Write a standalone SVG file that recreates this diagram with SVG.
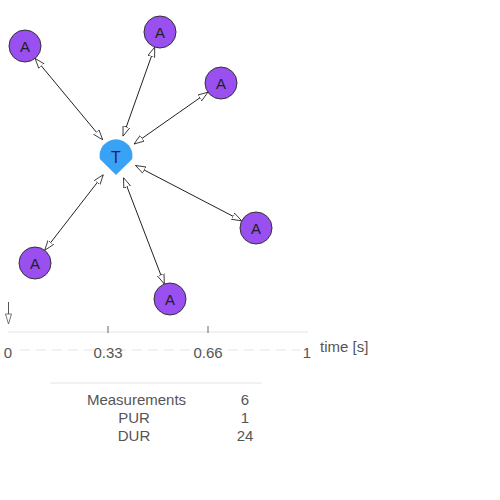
<svg xmlns="http://www.w3.org/2000/svg" width="500" height="500" viewBox="0 0 500 500">
<style>
.lbl{font-family:"Liberation Sans",Arial,sans-serif;font-size:15px;fill:#555;}
.nlbl{font-family:"Liberation Sans",Arial,sans-serif;font-size:15px;fill:#222;text-anchor:middle;}
.anode{fill:#9a4ff0;stroke:#333;stroke-width:1;}
.edge{stroke:#222;stroke-width:1;fill:none;marker-start:url(#ah);marker-end:url(#ah);}
.faint{stroke:#e4e4e4;stroke-width:1;fill:none;}
</style>
<defs>
<marker id="ah" viewBox="0 0 10 8" refX="10" refY="4" markerWidth="10" markerHeight="8" markerUnits="userSpaceOnUse" orient="auto-start-reverse">
<path d="M0,0.5 L10,4 L0,7.5 Z" fill="#fff" stroke="#222" stroke-width="0.8"/>
</marker>
</defs>
<rect width="500" height="500" fill="#fff"/>
<g id="T">
<path d="M99.8,159 A16.5,16.5 0 1 1 132.2,159 L116,175 Z" fill="#38a2f4"/>
<text class="nlbl" x="116" y="163" style="font-size:16px;fill:#2a1a5a">T</text>
</g>
<g id="connectors">
<line class="edge" x1="102.7" y1="139.8" x2="35.1" y2="58.4"/>
<line class="edge" x1="123" y1="136.2" x2="154.7" y2="47.1"/>
<line class="edge" x1="134" y1="144" x2="207.9" y2="92.2"/>
<line class="edge" x1="135.5" y1="165.5" x2="241.7" y2="220.8"/>
<line class="edge" x1="103.3" y1="174.7" x2="44.7" y2="250.3"/>
<line class="edge" x1="123.5" y1="177.6" x2="164.3" y2="284"/>
</g>
<g id="A1"><circle class="anode" cx="25" cy="46" r="16"/><text class="nlbl" x="25" y="51.5">A</text></g>
<g id="A2"><circle class="anode" cx="160" cy="32" r="16"/><text class="nlbl" x="160" y="37.5">A</text></g>
<g id="A3"><circle class="anode" cx="221" cy="83" r="16"/><text class="nlbl" x="221" y="88.5">A</text></g>
<g id="A4"><circle class="anode" cx="256" cy="228" r="16"/><text class="nlbl" x="256" y="233.5">A</text></g>
<g id="A5"><circle class="anode" cx="35" cy="263" r="16"/><text class="nlbl" x="35" y="268.5">A</text></g>
<g id="A6"><circle class="anode" cx="170" cy="299" r="16"/><text class="nlbl" x="170" y="304.5">A</text></g>
<g id="axis">
<line x1="8.5" y1="302" x2="8.5" y2="315" stroke="#555" stroke-width="1"/>
<path d="M5.5,314 L8.5,324 L11.5,314 Z" fill="#fff" stroke="#555" stroke-width="0.8"/>
<line class="faint" x1="8" y1="332" x2="308" y2="332"/>
<line x1="108" y1="326" x2="108" y2="333" stroke="#666" stroke-width="1"/>
<line x1="208" y1="326" x2="208" y2="333" stroke="#666" stroke-width="1"/>
<line class="faint" x1="20" y1="350" x2="300" y2="350" stroke-dasharray="10 6"/>
<text class="lbl" x="8" y="358" text-anchor="middle">0</text>
<text class="lbl" x="108" y="358" text-anchor="middle">0.33</text>
<text class="lbl" x="208" y="358" text-anchor="middle">0.66</text>
<text class="lbl" x="307" y="358" text-anchor="middle">1</text>
<text class="lbl" x="320" y="352">time [s]</text>
</g>
<g id="table">
<line class="faint" x1="50" y1="383" x2="262" y2="383"/>
<text class="lbl" x="136.5" y="405" text-anchor="middle">Measurements</text>
<text class="lbl" x="245" y="405" text-anchor="middle">6</text>
<text class="lbl" x="134" y="423" text-anchor="middle">PUR</text>
<text class="lbl" x="245" y="423" text-anchor="middle">1</text>
<text class="lbl" x="134" y="441" text-anchor="middle">DUR</text>
<text class="lbl" x="245" y="441" text-anchor="middle">24</text>
</g>
</svg>
